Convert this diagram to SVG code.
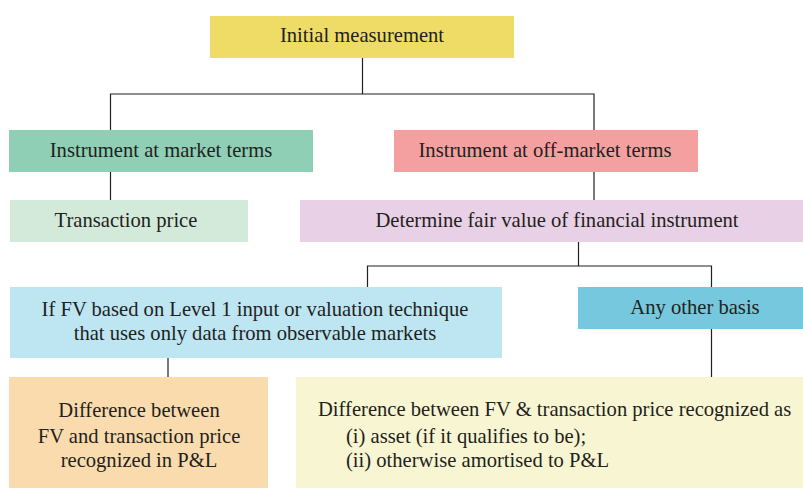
<svg xmlns="http://www.w3.org/2000/svg" width="803" height="488" viewBox="0 0 803 488">
<style>
text{font-family:"Liberation Serif","Times New Roman",serif;font-size:20.6px;fill:#231F20}
.c{text-anchor:middle}
.ln{stroke:#231F20;stroke-width:1.2;fill:none}
</style>
<rect width="803" height="488" fill="#fff"/>
<g id="connectors">
<path class="ln" d="M362.5 58V94M110.5 130V94H594V130"/>
<path class="ln" d="M110.5 172V200M594 172V200"/>
<path class="ln" d="M578.5 242V266M367.5 287V266H711.5V287"/>
<path class="ln" d="M168 358V377M711.5 329V377"/>
</g>
<g id="initial"><rect x="210" y="16" width="304" height="42" fill="#EEDC67"/><text class="c" x="362" y="42">Initial measurement</text></g>
<g id="market"><rect x="9" y="130" width="304" height="42" fill="#8ECFB6"/><text class="c" x="161" y="157">Instrument at market terms</text></g>
<g id="offmarket"><rect x="394" y="130" width="304" height="42" fill="#F4A0A0"/><text class="c" x="545" y="157">Instrument at off-market terms</text></g>
<g id="transaction"><rect x="10" y="200" width="238" height="42" fill="#D3EADB"/><text class="c" x="126" y="227">Transaction price</text></g>
<g id="fairvalue"><rect x="300" y="200" width="503" height="42" fill="#E8D0E6"/><text class="c" x="557" y="227">Determine fair value of financial instrument</text></g>
<g id="level1"><rect x="10" y="287" width="492" height="71" fill="#BDE5F2"/><text class="c" x="255" y="316">If FV based on Level 1 input or valuation technique</text><text class="c" x="255" y="340">that uses only data from observable markets</text></g>
<g id="otherbasis"><rect x="578" y="287" width="225" height="42" fill="#76C8DE"/><text class="c" x="695" y="314">Any other basis</text></g>
<g id="pl"><rect x="9" y="377" width="259" height="111" fill="#F9DBAD"/><text class="c" x="139" y="417">Difference between</text><text class="c" x="139" y="443">FV and transaction price</text><text class="c" x="139" y="467">recognized in P&amp;L</text></g>
<g id="asset"><rect x="296" y="377" width="507" height="111" fill="#F8F5D2"/><text x="318" y="416">Difference between FV &amp; transaction price recognized as</text><text x="346" y="443">(i) asset (if it qualifies to be);</text><text x="346" y="467">(ii) otherwise amortised to P&amp;L</text></g>
</svg>
